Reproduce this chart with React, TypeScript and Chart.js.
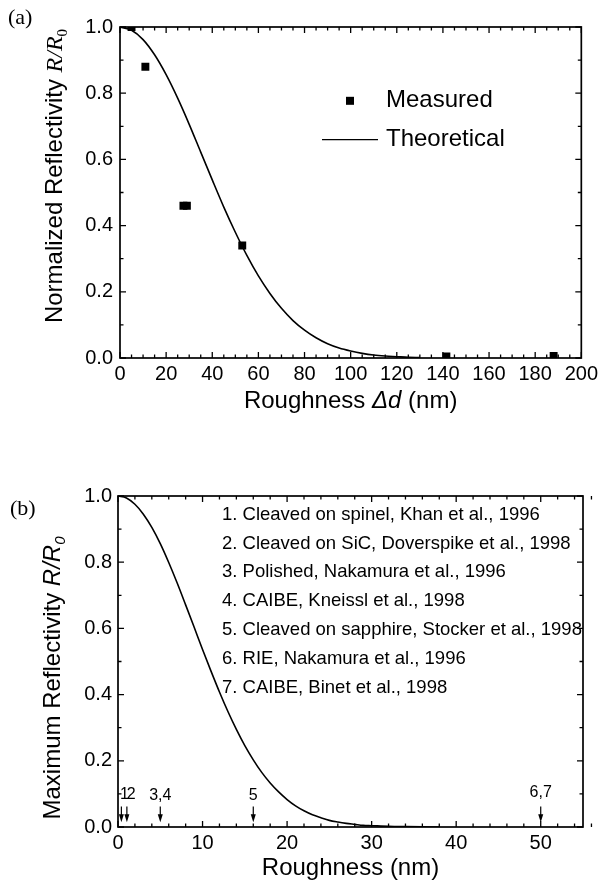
import React, { useEffect, useRef } from "react";
import { Chart, registerables } from "chart.js";

Chart.register(...registerables);

// ---------- Panel (a) data ----------
const measuredX = [5, 11, 27.5, 29, 53, 141.5, 188];
const measuredY = [1.0, 0.88, 0.46, 0.46, 0.34, 0.005, 0.006];

const theoryAX = [0, 5, 10, 15, 20, 25, 30, 35, 40, 45, 50, 55, 60, 65, 70, 75, 80, 85, 90, 95, 100, 105, 110, 115, 120, 125, 130];
const theoryAY = [1.0, 0.99, 0.962, 0.916, 0.856, 0.785, 0.706, 0.622, 0.538, 0.456, 0.38, 0.31, 0.248, 0.195, 0.15, 0.113, 0.084, 0.061, 0.043, 0.03, 0.021, 0.014, 0.009, 0.006, 0.004, 0.002, 0.001];

const xTicksA = [0, 20, 40, 60, 80, 100, 120, 140, 160, 180, 200];
const yTicks = [0, 0.2, 0.4, 0.6, 0.8, 1.0];

// ---------- Panel (b) data ----------
const theoryBX = [0, 1, 2, 3, 4, 5, 6, 7, 8, 9, 10, 11, 12, 13, 14, 15, 16, 17, 18, 19, 20, 21, 22, 23, 24, 25, 26, 27, 28, 29, 30, 32, 34, 36, 38];
const theoryBY = [1.0, 0.994, 0.975, 0.945, 0.905, 0.856, 0.799, 0.737, 0.671, 0.604, 0.536, 0.471, 0.408, 0.349, 0.295, 0.246, 0.203, 0.165, 0.133, 0.106, 0.083, 0.064, 0.049, 0.037, 0.028, 0.02, 0.015, 0.011, 0.008, 0.005, 0.004, 0.002, 0.001, 0.0003, 0.0001];

const xTicksB = [0, 10, 20, 30, 40, 50];

const arrowX = [0.4, 1.05, 5, 16, 50];
const arrowLabels = ["1", "2", "3,4", "5", "6,7"];
const arrowLabelX = [0.75, 1.55, 5, 16, 50];
const arrowLabelY = [0.097, 0.097, 0.095, 0.095, 0.105];
const arrowTopY = 0.062;
const arrowTipY = 0.014;

const refLabels = [
  "1. Cleaved on spinel, Khan et al., 1996",
  "2. Cleaved on SiC, Doverspike et al., 1998",
  "3. Polished, Nakamura et al., 1996",
  "4. CAIBE, Kneissl et al., 1998",
  "5. Cleaved on sapphire, Stocker et al., 1998",
  "6. RIE, Nakamura et al., 1996",
  "7. CAIBE, Binet et al., 1998",
];

const SANS = "'Liberation Sans', Arial, Helvetica, sans-serif";
const SERIF = "'Liberation Serif', 'Times New Roman', serif";

type Seg = { t: string; font: string; dy?: number };

function drawSegs(ctx: CanvasRenderingContext2D, segs: Seg[], x: number, y: number, align: "center" | "left") {
  let total = 0;
  for (const s of segs) {
    ctx.font = s.font;
    total += ctx.measureText(s.t).width;
  }
  let cx = align === "center" ? x - total / 2 : x;
  ctx.textAlign = "left";
  ctx.textBaseline = "alphabetic";
  for (const s of segs) {
    ctx.font = s.font;
    ctx.fillText(s.t, cx, y + (s.dy || 0));
    cx += ctx.measureText(s.t).width;
  }
}

function drawFrame(chart: any, xMinor: number, yMinor: number) {
  const { ctx, chartArea: a, scales } = chart;
  const xs = scales.x;
  const ys = scales.y;
  ctx.save();
  ctx.strokeStyle = "#000";
  ctx.lineWidth = 1.7;
  ctx.strokeRect(a.left, a.top, a.right - a.left, a.bottom - a.top);
  ctx.lineWidth = 1.3;
  const majLen = 6;
  const minLen = 3.5;
  const isMaj = (ticks: any[], v: number) => ticks.some((t: any) => Math.abs(t.value - v) < 1e-6);
  const nx = Math.round((xs.max - xs.min) / xMinor);
  ctx.beginPath();
  for (let i = 0; i <= nx; i++) {
    const v = xs.min + i * xMinor;
    const px = xs.getPixelForValue(v);
    const L = isMaj(xs.ticks, v) ? majLen : minLen;
    ctx.moveTo(px, a.bottom);
    ctx.lineTo(px, a.bottom - L);
    ctx.moveTo(px, a.top);
    ctx.lineTo(px, a.top + L);
  }
  const ny = Math.round((ys.max - ys.min) / yMinor);
  for (let i = 0; i <= ny; i++) {
    const v = ys.min + i * yMinor;
    const py = ys.getPixelForValue(v);
    const L = isMaj(ys.ticks, v) ? majLen : minLen;
    ctx.moveTo(a.left, py);
    ctx.lineTo(a.left + L, py);
    ctx.moveTo(a.right, py);
    ctx.lineTo(a.right - L, py);
  }
  ctx.stroke();
  ctx.restore();
}

function drawYTitle(ctx: CanvasRenderingContext2D, segs: Seg[], x: number, yc: number) {
  ctx.save();
  ctx.translate(x, yc);
  ctx.rotate(-Math.PI / 2);
  ctx.fillStyle = "#000";
  drawSegs(ctx, segs, 0, 0, "center");
  ctx.restore();
}

const decorA = {
  id: "decorA",
  afterDraw(chart: any) {
    const { ctx, chartArea: a, scales } = chart;
    drawFrame(chart, 5, 0.1);
    ctx.save();
    ctx.fillStyle = "#000";
    ctx.font = `22px ${SERIF}`;
    ctx.textAlign = "left";
    ctx.textBaseline = "alphabetic";
    ctx.fillText("(a)", 8, 24);
    drawYTitle(
      ctx,
      [
        { t: "Normalized Reflectivity ", font: `24px ${SANS}` },
        { t: "R/R", font: `italic 24px ${SERIF}` },
        { t: "0", font: `15px ${SERIF}`, dy: 5 },
      ],
      62,
      176
    );
    ctx.fillStyle = "#000";
    drawSegs(
      ctx,
      [
        { t: "Roughness ", font: `24px ${SANS}` },
        { t: "\u0394d", font: `italic 24px ${SANS}` },
        { t: " (nm)", font: `24px ${SANS}` },
      ],
      (a.left + a.right) / 2,
      408,
      "center"
    );
    // legend
    const lx = a.left + 230;
    const y1 = scales.y.getPixelForValue(0.777);
    const y2 = scales.y.getPixelForValue(0.66);
    ctx.fillRect(lx - 4, y1 - 4, 8, 8);
    ctx.strokeStyle = "#000";
    ctx.lineWidth = 1.3;
    ctx.beginPath();
    ctx.moveTo(a.left + 202, y2);
    ctx.lineTo(a.left + 258, y2);
    ctx.stroke();
    ctx.font = `24px ${SANS}`;
    ctx.textBaseline = "middle";
    ctx.textAlign = "left";
    ctx.fillText("Measured", a.left + 266, y1);
    ctx.fillText("Theoretical", a.left + 266, y2);
    ctx.restore();
  },
};

const decorB = {
  id: "decorB",
  afterDraw(chart: any) {
    const { ctx, chartArea: a, scales } = chart;
    const xs = scales.x;
    const ys = scales.y;
    drawFrame(chart, 2, 0.1);
    ctx.save();
    ctx.fillStyle = "#000";
    ctx.font = `22px ${SERIF}`;
    ctx.textAlign = "left";
    ctx.textBaseline = "alphabetic";
    ctx.fillText("(b)", 10, 75);
    drawYTitle(
      ctx,
      [
        { t: "Maximum Reflectivity ", font: `24px ${SANS}` },
        { t: "R/R", font: `italic 24px ${SANS}` },
        { t: "0", font: `italic 15px ${SANS}`, dy: 5 },
      ],
      60,
      238
    );
    drawSegs(ctx, [{ t: "Roughness (nm)", font: `24px ${SANS}` }], (a.left + a.right) / 2, 435, "center");
    // reference list
    ctx.font = `18.5px ${SANS}`;
    ctx.textBaseline = "middle";
    ctx.textAlign = "left";
    const ly0 = ys.getPixelForValue(0.944);
    refLabels.forEach((s, i) => {
      ctx.fillText(s, a.left + 104, ly0 + i * 28.9);
    });
    // arrows
    ctx.strokeStyle = "#000";
    ctx.lineWidth = 1.2;
    arrowX.forEach((xv) => {
      const px = xs.getPixelForValue(xv);
      const top = ys.getPixelForValue(arrowTopY);
      const tip = ys.getPixelForValue(arrowTipY);
      ctx.beginPath();
      ctx.moveTo(px, top);
      ctx.lineTo(px, tip - 6);
      ctx.stroke();
      ctx.beginPath();
      ctx.moveTo(px - 2.5, tip - 8);
      ctx.lineTo(px + 2.5, tip - 8);
      ctx.lineTo(px, tip);
      ctx.closePath();
      ctx.fill();
    });
    ctx.font = `16px ${SANS}`;
    ctx.textAlign = "center";
    ctx.textBaseline = "middle";
    arrowLabels.forEach((s, i) => {
      ctx.fillText(s, xs.getPixelForValue(arrowLabelX[i]), ys.getPixelForValue(arrowLabelY[i]));
    });
    ctx.restore();
  },
};

function fixedTicks(values: number[]) {
  return (scale: any) => {
    scale.ticks = values.map((v) => ({ value: v }));
  };
}

const tickFont = { family: SANS, size: 20 };

function PanelA() {
  const ref = useRef<HTMLCanvasElement>(null);
  useEffect(() => {
    const chart = new Chart(ref.current as HTMLCanvasElement, {
      type: "scatter",
      data: {
        datasets: [
          {
            label: "Measured",
            data: measuredX.map((x, i) => ({ x, y: measuredY[i] })),
            pointStyle: "rect",
            pointRadius: 5.6,
            pointBackgroundColor: "#000",
            pointBorderColor: "#000",
            pointBorderWidth: 0,
            showLine: false,
          },
          {
            label: "Theoretical",
            data: theoryAX.map((x, i) => ({ x, y: theoryAY[i] })),
            showLine: true,
            borderColor: "#000",
            borderWidth: 1.6,
            pointRadius: 0,
            cubicInterpolationMode: "monotone",
            fill: false,
          },
        ],
      },
      options: {
        responsive: false,
        animation: false,
        layout: { padding: { left: 0, right: 18, top: 27, bottom: 0 } },
        plugins: { legend: { display: false }, tooltip: { enabled: false } },
        scales: {
          x: {
            type: "linear",
            min: 0,
            max: 200,
            afterBuildTicks: fixedTicks(xTicksA),
            afterFit: (s: any) => {
              s.height = 440 - 358;
            },
            grid: { display: false, drawTicks: false },
            border: { display: false },
            ticks: { color: "#000", font: tickFont, padding: 4, maxRotation: 0 },
          },
          y: {
            type: "linear",
            min: 0,
            max: 1,
            afterBuildTicks: fixedTicks(yTicks),
            afterFit: (s: any) => {
              s.width = 120;
            },
            grid: { display: false, drawTicks: false },
            border: { display: false },
            ticks: {
              color: "#000",
              font: tickFont,
              padding: 7,
              callback: (v: any) => Number(v).toFixed(1),
            },
          },
        },
      },
      plugins: [decorA],
    } as any);
    return () => chart.destroy();
  }, []);
  return <canvas ref={ref} width={602} height={440} style={{ position: "absolute", left: 0, top: 0, width: 602, height: 440 }} />;
}

function PanelB() {
  const ref = useRef<HTMLCanvasElement>(null);
  useEffect(() => {
    const chart = new Chart(ref.current as HTMLCanvasElement, {
      type: "scatter",
      data: {
        datasets: [
          {
            label: "Theoretical",
            data: theoryBX.map((x, i) => ({ x, y: theoryBY[i] })),
            showLine: true,
            borderColor: "#000",
            borderWidth: 1.6,
            pointRadius: 0,
            cubicInterpolationMode: "monotone",
            fill: false,
          },
        ],
      },
      options: {
        responsive: false,
        animation: false,
        layout: { padding: { left: 0, right: 19, top: 56, bottom: 0 } },
        plugins: { legend: { display: false }, tooltip: { enabled: false } },
        scales: {
          x: {
            type: "linear",
            min: 0,
            max: 55,
            afterBuildTicks: fixedTicks(xTicksB),
            afterFit: (s: any) => {
              s.height = 444 - 387;
            },
            grid: { display: false, drawTicks: false },
            border: { display: false },
            ticks: { color: "#000", font: tickFont, padding: 4, maxRotation: 0 },
          },
          y: {
            type: "linear",
            min: 0,
            max: 1,
            afterBuildTicks: fixedTicks(yTicks),
            afterFit: (s: any) => {
              s.width = 118;
            },
            grid: { display: false, drawTicks: false },
            border: { display: false },
            ticks: {
              color: "#000",
              font: tickFont,
              padding: 6,
              callback: (v: any) => Number(v).toFixed(1),
            },
          },
        },
      },
      plugins: [decorB],
    } as any);
    return () => chart.destroy();
  }, []);
  return <canvas ref={ref} width={602} height={444} style={{ position: "absolute", left: 0, top: 440, width: 602, height: 444 }} />;
}

export default function App() {
  return (
    <div style={{ position: "fixed", left: 0, top: 0, width: 602, height: 884, background: "#fff", overflow: "hidden" }}>
      <PanelA />
      <PanelB />
    </div>
  );
}
